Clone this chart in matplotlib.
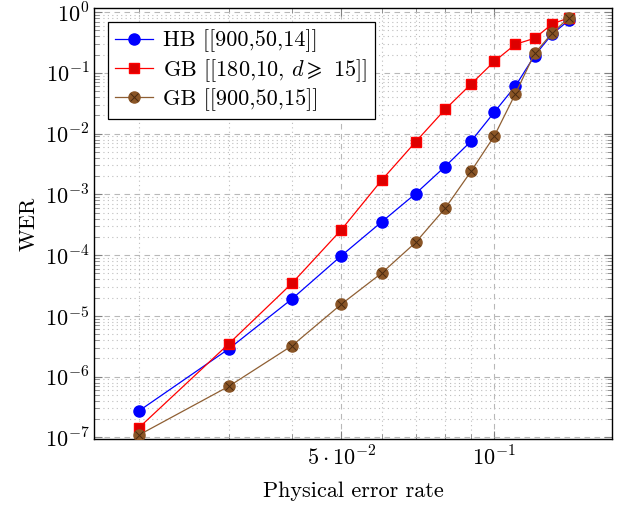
import matplotlib
matplotlib.use("Agg")
import matplotlib.pyplot as plt
from matplotlib.ticker import LogLocator, FixedLocator, NullFormatter, FixedFormatter
import numpy as np

plt.rcParams['font.family'] = 'serif'
plt.rcParams['font.serif'] = ['cmr10', 'DejaVu Serif']
plt.rcParams['mathtext.fontset'] = 'cm'
plt.rcParams['axes.formatter.use_mathtext'] = True
plt.rcParams['axes.unicode_minus'] = False

p = [0.02, 0.03, 0.04, 0.05, 0.06, 0.07, 0.08, 0.09, 0.10, 0.11, 0.12, 0.13, 0.14]
hb_900_50_14 = [2.74e-7, 2.85e-6, 1.91e-5, 9.8e-5, 3.52e-4, 1.03e-3, 2.88e-3,
                7.53e-3, 2.27e-2, 6.09e-2, 0.193, 0.44, 0.73]
gb_180_10 = [1.45e-7, 3.45e-6, 3.46e-5, 2.62e-4, 1.71e-3, 7.34e-3, 2.51e-2,
             6.57e-2, 0.155, 0.296, 0.372, 0.641, 0.805]
gb_900_50_15 = [1.10e-7, 6.9e-7, 3.24e-6, 1.56e-5, 5.06e-5, 1.62e-4, 5.9e-4,
                2.41e-3, 9.2e-3, 4.55e-2, 0.21, 0.456, 0.805]

labels = ['HB [[900,50,14]]', r'GB [[180,10, $d \geqslant$ 15]]', 'GB [[900,50,15]]']
xticks = [0.05, 0.1]
xticklabels = [r'$5\cdot 10^{-2}$', r'$10^{-1}$']
yticks = [1e-7, 1e-6, 1e-5, 1e-4, 1e-3, 1e-2, 1e-1, 1e0]
yticklabels = [r'$10^{-7}$', r'$10^{-6}$', r'$10^{-5}$', r'$10^{-4}$',
               r'$10^{-3}$', r'$10^{-2}$', r'$10^{-1}$', r'$10^{0}$']

FS = 16

fig = plt.figure(figsize=(6.24, 5.08), dpi=100)
ax = fig.add_axes([0.1511, 0.1368, 0.9813 - 0.1511, 0.9833 - 0.1368])
ax.set_xscale('log')
ax.set_yscale('log')

brown = '#8f5f33'
l1, = ax.plot(p, hb_900_50_14, color='blue', lw=0.9, marker='o', ms=8,
              mfc='blue', mec='blue', zorder=3)
l2, = ax.plot(p, gb_180_10, color='red', lw=0.9, marker='s', ms=7.8,
              mfc='#dd0000', mec='red', zorder=4)
l3, = ax.plot(p, gb_900_50_15, color=brown, lw=0.9, marker='o', ms=8,
              mfc='#8a5526', mec='#8a5526', zorder=5)
l3x, = ax.plot(p, gb_900_50_15, ls='none', marker='x', ms=5.2, mew=0.7,
               color='#4a2a10', zorder=6)

ax.set_xlim(0.01633, 0.1706)
ax.set_ylim(0.96e-7, 1.15)

ax.xaxis.set_major_locator(FixedLocator(xticks))
ax.xaxis.set_major_formatter(FixedFormatter(xticklabels))
ax.xaxis.set_minor_locator(LogLocator(base=10, subs=np.arange(2, 10), numticks=20))
ax.xaxis.set_minor_formatter(NullFormatter())
ax.yaxis.set_major_locator(FixedLocator(yticks))
ax.yaxis.set_major_formatter(FixedFormatter(yticklabels))
ax.yaxis.set_minor_locator(LogLocator(base=10, subs=np.arange(2, 10), numticks=20))
ax.yaxis.set_minor_formatter(NullFormatter())

ax.grid(True, which='major', ls=(0, (5, 4)), color='#b8b8b8', lw=0.8)
ax.grid(True, which='minor', ls=(0, (1, 3)), color='#bdbdbd', lw=0.8)
ax.set_axisbelow(True)

ax.tick_params(which='both', direction='in', top=True, right=True, colors='#808080',
               labelcolor='black', labelsize=FS)
ax.tick_params(which='major', length=6, width=0.8)
ax.tick_params(which='minor', length=3.5, width=0.6, labelbottom=False, labelleft=False)
ax.tick_params(axis='x', which='major', pad=5)
for s in ax.spines.values():
    s.set_linewidth(1.0)
    s.set_color('black')

ax.set_xlabel('Physical error rate', fontsize=FS, labelpad=9)
ax.set_ylabel('WER', fontsize=FS, labelpad=4)

leg = ax.legend([l1, l2, (l3, l3x)], labels, loc='upper left', fontsize=FS,
                frameon=True, fancybox=False, edgecolor='black', framealpha=1,
                borderaxespad=0.6, handlelength=1.7, handletextpad=0.45,
                labelspacing=0.2, borderpad=0.35)
leg.get_frame().set_linewidth(0.9)

fig.savefig('out.png', dpi=100)
